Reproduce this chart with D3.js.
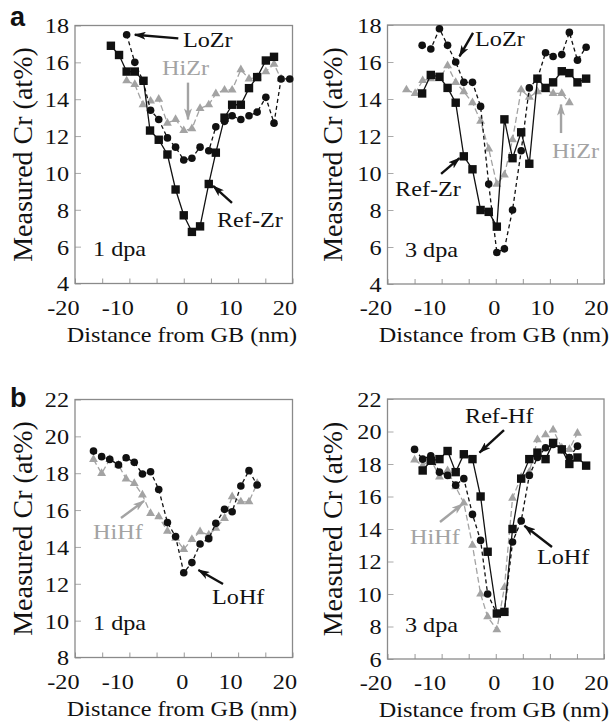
<!DOCTYPE html>
<html><head><meta charset="utf-8">
<script src="https://cdn.jsdelivr.net/npm/d3@7"></script>
<style>
body{margin:0;background:#fff}
svg{display:block}
text{font-family:"Liberation Serif","Times New Roman",serif;fill:#111}
</style>
</head><body>
<svg id="c" width="612" height="722"></svg>
<script>
// ---------------- DATA ----------------
const xTicks = [-20, -15, -10, -5, 0, 5, 10, 15, 20];
const xLabels = [-20, -10, 0, 10, 20];
const yTicksA = [4, 6, 8, 10, 12, 14, 16, 18];
const yTicksB1 = [8, 10, 12, 14, 16, 18, 20, 22];
const yTicksB2 = [6, 8, 10, 12, 14, 16, 18, 20, 22];

// Panel a, 1 dpa
const a1RefX = [-13.4,-11.9,-10.5,-9.0,-7.4,-6.2,-4.6,-3.0,-1.5,0.0,1.5,3.0,4.6,5.9,7.5,8.9,10.5,12.0,13.5,15.1,16.6];
const a1RefY = [16.9,16.4,15.5,15.5,15.0,12.3,11.8,11.0,9.1,7.7,6.8,7.1,9.4,11.1,13.0,13.7,13.7,14.6,15.2,16.1,16.3];
const a1LoX  = [-10.5,-9.0,-7.5,-6.1,-4.6,-3.0,-1.5,0.0,1.5,3.0,4.6,5.9,7.5,8.9,10.5,12.0,13.5,15.1,16.6,17.9,19.5];
const a1LoY  = [17.5,16.0,15.0,13.4,12.9,11.9,11.4,10.7,10.8,11.4,11.2,12.5,12.8,13.1,12.9,13.1,13.3,14.1,12.7,15.1,15.1];
const a1HiX  = [-10.5,-9.0,-7.5,-6.1,-4.6,-3.0,-1.5,0.0,1.5,3.0,4.6,5.9,7.5,8.9,10.5,12.0,13.5,15.1,16.6,17.9];
const a1HiY  = [15.0,14.8,13.7,13.9,14.0,12.7,12.9,12.3,12.4,13.5,13.7,14.3,14.5,14.5,15.6,15.1,15.2,15.5,15.9,15.1];

// Panel a, 3 dpa
const a3RefX = [-13.6,-12.0,-10.4,-8.9,-7.4,-5.9,-4.3,-2.8,-1.3,0.2,1.6,3.1,4.7,6.2,7.7,9.2,10.6,12.2,13.6,15.1,16.7];
const a3RefY = [14.3,15.3,15.2,14.6,13.8,10.9,10.2,8.0,7.9,7.1,12.9,10.8,12.2,10.5,15.1,14.6,14.9,15.5,15.4,14.9,15.1];
const a3LoX  = [-13.6,-12.0,-10.4,-8.9,-7.4,-5.9,-4.3,-2.8,-1.3,0.2,1.6,3.1,4.7,6.2,7.7,9.2,10.6,12.2,13.6,15.1,16.7];
const a3LoY  = [16.9,16.7,17.8,16.9,16.0,14.9,14.9,13.6,9.4,5.7,5.9,8.0,11.2,14.6,15.1,16.5,16.3,16.4,17.6,16.1,16.8];
const a3HiX  = [-16.5,-14.9,-13.5,-12.0,-10.4,-8.9,-7.4,-5.9,-4.3,-2.8,-1.3,0.2,1.6,3.1,4.7,6.2,7.7,9.2,10.6,12.2,13.6];
const a3HiY  = [14.5,14.3,15.0,15.1,15.1,15.8,14.9,14.4,13.8,12.8,11.3,9.4,9.9,11.8,14.5,14.1,14.4,14.5,14.3,14.3,13.8];

// Panel b, 1 dpa
const b1LoX = [-16.6,-15.1,-13.6,-12.0,-10.6,-9.1,-7.6,-6.1,-4.6,-3.0,-1.5,0.0,1.5,3.0,4.6,5.9,7.5,8.9,10.5,12.0,13.5];
const b1LoY = [19.2,18.9,18.75,18.45,18.84,18.59,17.96,18.08,17.12,15.32,14.56,12.6,13.15,14.16,14.45,15.28,16.04,15.91,17.31,18.14,17.36];
const b1HiX = [-16.6,-15.1,-13.6,-12.0,-10.6,-9.1,-7.6,-6.1,-4.6,-3.0,-1.5,0.0,1.5,3.0,4.6,5.9,7.5,8.9,10.5,12.0,13.5];
const b1HiY = [18.75,17.99,18.75,18.45,17.69,17.45,16.82,15.82,15.64,14.86,14.47,13.87,14.41,14.83,14.65,15.01,15.55,16.73,16.45,16.45,17.45];

// Panel b, 3 dpa
const b3RefX = [-13.5,-12.0,-10.4,-8.9,-7.4,-5.9,-4.3,-2.8,-1.5,0.2,1.6,3.1,4.7,6.2,7.7,9.2,10.6,12.2,13.6,15.1,16.7];
const b3RefY = [17.6,18.2,18.3,18.8,17.5,18.6,18.3,16.0,12.6,8.8,8.9,14.0,17.1,18.3,18.7,18.3,19.3,18.9,18.0,18.4,17.9];
const b3LoX  = [-15.0,-13.5,-12.0,-10.4,-8.9,-7.4,-5.9,-4.3,-2.8,-1.5,0.2,1.6,3.1,4.7,6.2,7.7,9.2,10.6,12.2,13.6,15.1];
const b3LoY  = [18.9,18.3,18.5,17.5,17.3,16.7,17.1,14.9,13.3,10.0,8.8,8.9,13.2,14.5,17.3,18.4,19.0,19.2,18.9,18.4,19.1];
const b3HiX  = [-15.0,-13.5,-12.0,-10.4,-8.9,-7.4,-5.9,-4.3,-2.8,-1.5,0.2,1.6,3.1,4.7,6.2,7.7,9.2,10.6,12.2,13.6,15.1];
const b3HiY  = [18.25,17.9,18.3,17.2,17.6,16.6,15.6,13.0,10.0,8.6,7.8,10.4,15.9,17.2,17.5,19.5,19.8,20.1,19.0,18.9,19.9];

// ---------------- STYLE / LAYOUT ----------------
const GREY = "#a3a3a3";
const SX = 1.1; // horizontal text stretch of the original figure
const FS = 22;
const svg = d3.select("#c");

const defs = svg.append("defs");
function arrowMarker(id, color) {
  defs.append("marker").attr("id", id)
    .attr("viewBox", "0 0 12 8").attr("refX", 11).attr("refY", 4)
    .attr("markerWidth", 12).attr("markerHeight", 8).attr("markerUnits", "userSpaceOnUse")
    .attr("orient", "auto")
    .append("path").attr("d", "M0,0 L12,4 L0,8 L3,4 Z").attr("fill", color);
}
arrowMarker("arrK", "#111");
arrowMarker("arrG", GREY);

const styles = {
  ref: {color: "#111", dash: null, shape: "square"},
  lo:  {color: "#111", dash: "4,3", shape: "circle"},
  hi:  {color: GREY,  dash: "6,3", shape: "triangle"}
};

function stretchedText(g, x, y, str, opts = {}) {
  return g.append("text")
    .attr("transform", `translate(${x},${y}) scale(${SX},1)`)
    .attr("text-anchor", opts.anchor || "start")
    .style("font-size", (opts.size || FS) + "px")
    .style("fill", opts.color || "#111")
    .text(str);
}

function panel(cfg) {
  const g = svg.append("g");
  const x = d3.scaleLinear().domain([-20, 20]).range([cfg.left, cfg.right]);
  const y = d3.scaleLinear().domain(cfg.yDomain).range([cfg.bottom, cfg.top]);

  // x axis (inner ticks + labels)
  const xa = g.append("g").attr("transform", `translate(0,${cfg.bottom})`)
    .call(d3.axisBottom(x).tickValues(xTicks).tickSize(-5)
      .tickFormat(d => xLabels.includes(d) ? String(d) : ""));
  xa.select(".domain").remove();
  xa.selectAll(".tick line").attr("stroke", "#999");
  xa.selectAll(".tick text")
    .attr("y", 0).attr("dy", null).attr("x", 0)
    .attr("text-anchor", "end")
    .attr("transform", `translate(4,31) scale(${SX},1)`)
    .style("font-family", '"Liberation Serif","Times New Roman",serif')
    .style("font-size", FS + "px").style("fill", "#111");

  // y axis
  const ya = g.append("g").attr("transform", `translate(${cfg.left},0)`)
    .call(d3.axisLeft(y).tickValues(cfg.yTicks).tickSize(-6).tickPadding(0));
  ya.select(".domain").remove();
  ya.selectAll(".tick line").attr("stroke", "#aaa");
  ya.selectAll(".tick text")
    .attr("x", 0).attr("dy", "0.34em")
    .attr("transform", `translate(-6,0) scale(${SX},1)`)
    .style("font-family", '"Liberation Serif","Times New Roman",serif')
    .style("font-size", FS + "px").style("fill", "#111");

  // frame
  g.append("rect").attr("x", cfg.left).attr("y", cfg.top)
    .attr("width", cfg.right - cfg.left).attr("height", cfg.bottom - cfg.top)
    .attr("fill", "none").attr("stroke", "#8a8a8a").attr("stroke-width", 1.3);

  // series
  cfg.series.forEach(s => {
    const st = styles[s.kind];
    const pts = s.xs.map((v, i) => [v, s.ys[i]]);
    g.append("path").datum(pts)
      .attr("d", d3.line().x(d => x(d[0])).y(d => y(d[1])))
      .attr("fill", "none").attr("stroke", st.color).attr("stroke-width", 1.3)
      .attr("stroke-dasharray", st.dash);
    const m = g.append("g");
    if (st.shape === "square") {
      m.selectAll("rect").data(pts).join("rect")
        .attr("x", d => x(d[0]) - 4.2).attr("y", d => y(d[1]) - 4.2)
        .attr("width", 8.4).attr("height", 8.4).attr("fill", st.color);
    } else if (st.shape === "circle") {
      m.selectAll("circle").data(pts).join("circle")
        .attr("cx", d => x(d[0])).attr("cy", d => y(d[1])).attr("r", 3.8)
        .attr("fill", st.color);
    } else {
      m.selectAll("path").data(pts).join("path")
        .attr("d", d3.symbol(d3.symbolTriangle, 34))
        .attr("transform", d => `translate(${x(d[0])},${y(d[1])})`)
        .attr("fill", st.color);
    }
  });

  // annotations
  cfg.notes.forEach(n => {
    const c = n.grey ? GREY : "#111";
    stretchedText(g, x(n.tx), y(n.ty), n.text, {color: c});
    if (n.a) {
      g.append("line")
        .attr("x1", x(n.a[0])).attr("y1", y(n.a[1]))
        .attr("x2", x(n.a[2])).attr("y2", y(n.a[3]))
        .attr("stroke", c).attr("stroke-width", 2.4)
        .attr("marker-end", n.grey ? "url(#arrG)" : "url(#arrK)");
    }
  });
  stretchedText(g, x(cfg.dpa[0]), y(cfg.dpa[1]), cfg.dpaText);

  // axis titles
  stretchedText(g, cfg.xTitleX, cfg.bottom + 58, "Distance from GB (nm)", {anchor: "middle", size: 22});
  g.append("text")
    .attr("transform", `translate(${cfg.yTitleX},${(cfg.top + cfg.bottom) / 2}) rotate(-90)`)
    .attr("text-anchor", "middle").style("font-size", "28px").text("Measured Cr (at%)");
}

panel({
  left: 75, right: 292.5, top: 25.5, bottom: 283.5, yDomain: [4, 18], yTicks: yTicksA,
  xTitleX: 182, yTitleX: 32,
  series: [
    {kind: "hi", xs: a1HiX, ys: a1HiY},
    {kind: "lo", xs: a1LoX, ys: a1LoY},
    {kind: "ref", xs: a1RefX, ys: a1RefY}
  ],
  notes: [
    {text: "LoZr", tx: -0.14, ty: 16.83, a: [-1.0, 17.3, -9.0, 17.5]},
    {text: "HiZr", tx: -4.0, ty: 15.31, grey: true, a: [0.78, 14.9, 0.78, 12.9]},
    {text: "Ref-Zr", tx: 6.11, ty: 7.07, a: [8.87, 8.37, 5.4, 9.3]}
  ],
  dpa: [-16.69, 5.49], dpaText: "1 dpa"
});

panel({
  left: 387.5, right: 604, top: 25, bottom: 284, yDomain: [4, 18], yTicks: yTicksA,
  xTitleX: 494, yTitleX: 342,
  series: [
    {kind: "hi", xs: a3HiX, ys: a3HiY},
    {kind: "lo", xs: a3LoX, ys: a3LoY},
    {kind: "ref", xs: a3RefX, ys: a3RefY}
  ],
  notes: [
    {text: "LoZr", tx: -3.83, ty: 16.86, a: [-4.2, 17.57, -6.7, 16.3]},
    {text: "HiZr", tx: 10.39, ty: 10.81, grey: true, a: [12.06, 12.16, 12.06, 13.7]},
    {text: "Ref-Zr", tx: -18.6, ty: 8.76, a: [-10.1, 9.95, -6.7, 10.8]}
  ],
  dpa: [-16.77, 5.46], dpaText: "3 dpa"
});

panel({
  left: 75, right: 292.5, top: 399.5, bottom: 657.5, yDomain: [8, 22], yTicks: yTicksB1,
  xTitleX: 182, yTitleX: 32,
  series: [
    {kind: "hi", xs: b1HiX, ys: b1HiY},
    {kind: "lo", xs: b1LoX, ys: b1LoY}
  ],
  notes: [
    {text: "HiHf", tx: -16.69, ty: 14.43, grey: true, a: [-11.54, 15.57, -7.3, 16.5]},
    {text: "LoHf", tx: 5.2, ty: 10.9, a: [7.22, 11.99, 2.7, 12.75]}
  ],
  dpa: [-16.69, 9.49], dpaText: "1 dpa"
});

panel({
  left: 387.5, right: 604, top: 399, bottom: 659, yDomain: [6, 22], yTicks: yTicksB2,
  xTitleX: 494, yTitleX: 342,
  series: [
    {kind: "hi", xs: b3HiX, ys: b3HiY},
    {kind: "lo", xs: b3LoX, ys: b3LoY},
    {kind: "ref", xs: b3RefX, ys: b3RefY}
  ],
  notes: [
    {text: "Ref-Hf", tx: -5.68, ty: 20.52, a: [1.52, 20.09, -3.0, 18.7]},
    {text: "HiHf", tx: -15.84, ty: 13.08, grey: true, a: [-10.3, 14.43, -6.1, 15.55]},
    {text: "LoHf", tx: 7.62, ty: 11.85, a: [10.39, 12.89, 5.3, 14.2]}
  ],
  dpa: [-16.77, 7.66], dpaText: "3 dpa"
});

// panel letters
svg.append("text").attr("x", 10).attr("y", 26)
  .style("font-family", '"Liberation Sans",Arial,sans-serif').style("font-weight", "bold")
  .style("font-size", "27px").text("a");
svg.append("text").attr("x", 10).attr("y", 407)
  .style("font-family", '"Liberation Sans",Arial,sans-serif').style("font-weight", "bold")
  .style("font-size", "27px").text("b");
</script>
</body></html>
